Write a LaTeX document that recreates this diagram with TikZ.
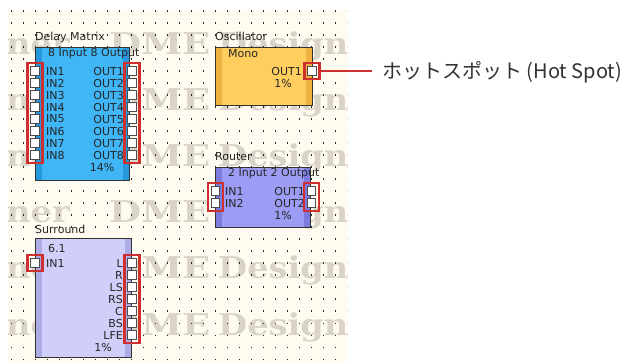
\documentclass[tikz,border=0pt]{standalone}
\usepackage{fontspec}
\setmainfont{DejaVu Sans}
\newfontfamily\uifont{DejaVu Sans}
\newfontfamily\wmfont{DejaVu Serif}
\newfontfamily\cjk{Noto Sans CJK JP}
\usetikzlibrary{fit}
\definecolor{PaperCream}{HTML}{FFFBF0}
\definecolor{MarkGray}{HTML}{D9D4C7}
\definecolor{HotRed}{HTML}{CE2F2F}
\definecolor{DlyBlue}{HTML}{40B6F6}
\definecolor{DlyBlueDk}{HTML}{2898DE}
\definecolor{OscOrange}{HTML}{FFCE5E}
\definecolor{OscOrangeDk}{HTML}{EFB23E}
\definecolor{RtrViolet}{HTML}{9C9CF4}
\definecolor{RtrVioletDk}{HTML}{7C7CDE}
\definecolor{SurLilac}{HTML}{CFCFF9}
\definecolor{SurLilacDk}{HTML}{ADADE6}

\begin{document}
\begin{tikzpicture}[x=1pt, y=-1pt,
  every node/.style={font=\uifont\fontsize{11}{12}\selectfont, inner sep=0pt, text=black!85},
  blk/.style 2 args={draw=black!80, line width=0.9pt, fill=#1, anchor=north west,
    path picture={
      \fill[#2] (path picture bounding box.north west) rectangle ([xshift=6.5pt]path picture bounding box.south west);
      \fill[#2] (path picture bounding box.north east) rectangle ([xshift=-6.5pt]path picture bounding box.south east);}},
  title/.style={anchor=base west},
  port/.style={draw=black!70, fill=white, line width=1.1pt, minimum size=8.5pt},
  hot/.style={draw=HotRed, line width=2.3pt, inner xsep=2.6pt, inner ysep=3pt},
  wm/.style={font=\wmfont\bfseries\fontsize{30}{30}\selectfont, text=MarkGray, xscale=1.12}
]
\useasboundingbox (0,0) rectangle (621,363);
\fill[white] (0,0) rectangle (621,363);

%% editor sheet: cream paper, watermark rows, dot grid
\begin{scope}
  \clip (8,10) rectangle (347,363);
  \fill[PaperCream] (8,10) rectangle (347,363);
  \foreach \r/\yb in {1/55, 2/111, 3/167, 4/223, 5/279, 6/335} {
    \node[wm, anchor=base east] (wml\r) at (70, \yb) {Designer};
    \node[wm, anchor=base west, xscale=1.1] (wmc\r) at (109, \yb) {DME};
    \node[wm, anchor=base west] (wmr\r) at (218, \yb) {Designer};
  }
  \foreach \i in {0,...,28} {
    \foreach \j in {0,...,29} {
      \fill[black!85] (10.5+12*\i, 10.5+12*\j) rectangle ++(1.1,1.1);
    }
  }
\end{scope}

%% Delay Matrix
\node[blk={DlyBlue}{DlyBlueDk}, minimum width=94pt, minimum height=133pt] (dm) at (35,47) {};
\node[title] (dmt) at (35,41) {Delay Matrix};
\node[title] (dmh) at (48,57) {8 Input 8 Output};
\foreach \k in {1,...,8} {
  \node[anchor=west] (dmil\k) at (46, 59+12*\k) {IN\k};
  \node[anchor=east] (dmol\k) at (124, 59+12*\k) {OUT\k};
  \node[port] (dmi\k) at (35, 59+12*\k) {};
  \node[port] (dmo\k) at (132, 59+12*\k) {};
}
\node (dmp) at (102,167) {14\%};
\node[hot, fit=(dmi1)(dmi8)] (dmhi) {};
\node[hot, fit=(dmo1)(dmo8)] (dmho) {};

%% Oscillator
\node[blk={OscOrange}{OscOrangeDk}, minimum width=97pt, minimum height=58pt] (osc) at (215,47) {};
\node[title] (osct) at (215,41) {Oscillator};
\node[anchor=west] (osch) at (228,54) {Mono};
\node[anchor=east] (oscl1) at (302,71) {OUT1};
\node (oscp) at (283,83) {1\%};
\node[port] (osco1) at (312,71) {};
\node[hot, fit=(osco1)] (hotspot) {};

%% Router
\node[blk={RtrViolet}{RtrVioletDk}, minimum width=95pt, minimum height=60pt] (rt) at (215,167) {};
\node[title] (rtt) at (215,161) {Router};
\node[title] (rth) at (228,177) {2 Input 2 Output};
\foreach \k in {1,2} {
  \node[anchor=west] (rtil\k) at (225, 179+12*\k) {IN\k};
  \node[anchor=east] (rtol\k) at (305, 179+12*\k) {OUT\k};
  \node[port] (rti\k) at (215.5, 179+12*\k) {};
  \node[port] (rto\k) at (311.5, 179+12*\k) {};
}
\node (rtp) at (283,215) {1\%};
\node[hot, fit=(rti1)(rti2)] (rthi) {};
\node[hot, fit=(rto1)(rto2)] (rtho) {};

%% Surround
\node[blk={SurLilac}{SurLilacDk}, minimum width=96pt, minimum height=119pt] (sr) at (35,238) {};
\node[title] (srt) at (35,234) {Surround};
\node[anchor=west] (srh) at (48,248) {6.1};
\node[anchor=west] (sril1) at (46,263) {IN1};
\node[port] (sri1) at (35,263) {};
\foreach \lbl [count=\k from 0] in {L,R,LS,RS,C,BS,LFE} {
  \node[anchor=east] (srol\k) at (123, 263+12*\k) {\lbl};
  \node[port] (sro\k) at (132, 263+12*\k) {};
}
\node (srp) at (103,347) {1\%};
\node[hot, fit=(sri1)] (srhi) {};
\node[hot, fit=(sro0)(sro6)] (srho) {};

%% hot spot callout
\node[font=\cjk\fontsize{20}{22}\selectfont, anchor=west, text=black!80] (hslabel) at (382,72) {ホットスポット (Hot Spot)};
\coordinate (hsend) at (372,71);
\draw[HotRed, line width=2pt] (hotspot.east) -- (hsend);
\end{tikzpicture}
\end{document}
